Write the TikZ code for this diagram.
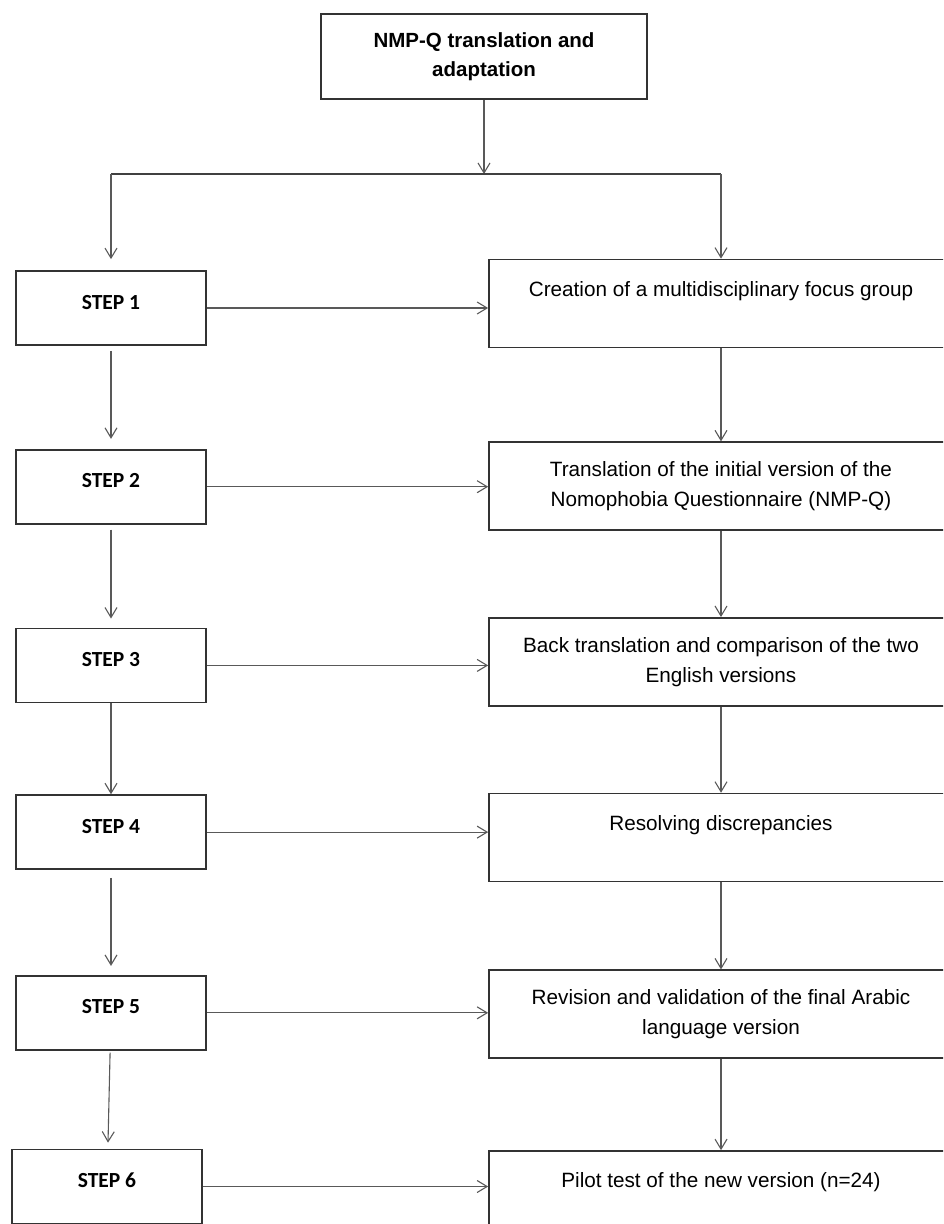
\documentclass[tikz,border=0pt]{standalone}
\usepackage{fontspec}
\setmainfont{Liberation Sans}
\newfontfamily\stepfont{Carlito}
\usetikzlibrary{positioning, arrows.meta}

\begin{document}
\begin{tikzpicture}[x=1pt, y=-1pt,
  titlebox/.style={draw=black!80, line width=1.7pt, minimum width=326pt, minimum height=85pt,
                align=center, font=\fontsize{20.5}{29}\selectfont\bfseries},
  stepbox/.style={draw=black!80, line width=1.7pt, minimum width=190pt, minimum height=74pt,
                text height=14pt, text depth=12pt, font=\stepfont\bfseries\fontsize{21.5}{25}\selectfont},
  taskbox/.style={draw=black!80, line width=1.7pt, minimum width=464pt, minimum height=88pt,
                align=center, font=\fontsize{20.7}{30}\selectfont},
  oneline/.style={text height=15pt, text depth=30pt},
  arr/.style={-{Straight Barb[length=10pt, width=12pt]}, line width=1.1pt, color=black!65},
  link/.style={line width=1.2pt, color=black!75},
]
\useasboundingbox (0,0) rectangle (943,1224);
\clip (0,0) rectangle (943,1224);

% Title
\node[titlebox] (title) at (484,56.5) {NMP-Q translation and\\adaptation};

% Steps (left column)
\node[stepbox] (s1) at (111,308) {STEP 1};
\node[stepbox, below=103pt of s1] (s2) {STEP 2};
\node[stepbox, below=103pt of s2] (s3) {STEP 3};
\node[stepbox, below=91pt of s3] (s4) {STEP 4};
\node[stepbox, below=105pt of s4] (s5) {STEP 5};
\node[stepbox, below=98pt of s5, xshift=-4pt] (s6) {STEP 6};

% Tasks (right column)
\node[taskbox, oneline] (r1) at (721,303.5) {Creation of a multidisciplinary focus group};
\node[taskbox, below=93pt of r1] (r2) {Translation of the initial version of the\\Nomophobia Questionnaire (NMP-Q)};
\node[taskbox, below=86pt of r2] (r3) {Back translation and comparison of the two\\English versions};
\node[taskbox, oneline, below=86pt of r3] (r4) {Resolving discrepancies};
\node[taskbox, below=87pt of r4] (r5) {Revision and validation of the final Arabic\\language version};
\node[taskbox, oneline, below=91pt of r5] (r6) {Pilot test of the new version (n=24)};

% Split below the title
\coordinate (bus) at (486,174);
\draw[arr] (title.south) -- (title.south |- bus);
\draw[link] (s1.north |- bus) -- (r1.north |- bus);
\draw[arr, shorten >=11pt] (s1.north |- bus) -- (s1.north);
\draw[arr] (r1.north |- bus) -- (r1.north);

% Step to step
\draw[arr, shorten <=5pt, shorten >=10pt] (s1) -- (s2);
\draw[arr, shorten <=5pt, shorten >=9pt] (s2) -- (s3);
\draw[arr] (s3) -- (s4);
\draw[arr, shorten <=8pt, shorten >=9pt] (s4) -- (s5);
\draw[arr, shorten <=2pt, shorten >=6pt] (s5) -- (s6);

% Step to task
\draw[arr] (s1.east) -- (s1.east -| r1.west);
\draw[arr] (s2.east) -- (s2.east -| r2.west);
\draw[arr] (s3.east) -- (s3.east -| r3.west);
\draw[arr] (s4.east) -- (s4.east -| r4.west);
\draw[arr] (s5.east) -- (s5.east -| r5.west);
\draw[arr] (s6.east) -- (s6.east -| r6.west);

% Task to task
\draw[arr] (r1) -- (r2);
\draw[arr] (r2) -- (r3);
\draw[arr] (r3) -- (r4);
\draw[arr] (r4) -- (r5);
\draw[arr] (r5) -- (r6);

\end{tikzpicture}
\end{document}
